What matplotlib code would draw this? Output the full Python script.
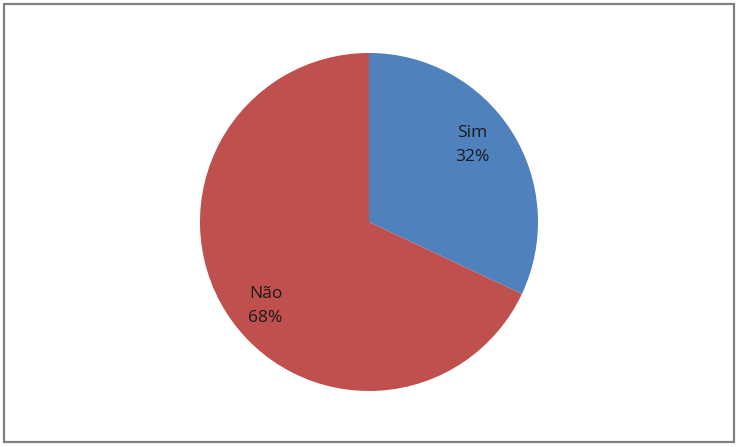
import numpy as np
import matplotlib
matplotlib.use("Agg")
from matplotlib import pyplot as plt
from matplotlib.patches import Rectangle

labels = ["Sim", "Não"]
values = [32, 68]
colors = ["#4F81BD", "#C0504D"]

fig = plt.figure(figsize=(7.39, 4.47), dpi=100)
fig.patch.set_facecolor("white")

# gray frame round the chart area
fig.add_artist(Rectangle((3.5 / 739, 5.5 / 447), 730 / 739, 438 / 447,
                         transform=fig.transFigure, fill=False,
                         edgecolor="#808080", linewidth=1.6))

ax = fig.add_axes([0.2706, 0.1253, 0.4574, 0.7562])
wedges, _ = ax.pie(values, colors=colors, startangle=90, counterclock=False,
                   wedgeprops=dict(linewidth=0))
ax.set_xlim(-1, 1)
ax.set_ylim(-1, 1)
ax.set_aspect("equal")

total = sum(values)
start = 90.0
for lab, v in zip(labels, values):
    span = v / total * 360
    mid = np.deg2rad(start - span / 2 + 5.5)
    r = 0.775
    ax.text(r * np.cos(mid), r * np.sin(mid) - 0.02, "%s\n%d%%" % (lab, v),
            ha="center", va="center", fontsize=12.5, color="#1a1a1a",
            family=["Open Sans", "DejaVu Sans"], linespacing=1.7)
    start -= span

fig.savefig("out.png", dpi=100)
